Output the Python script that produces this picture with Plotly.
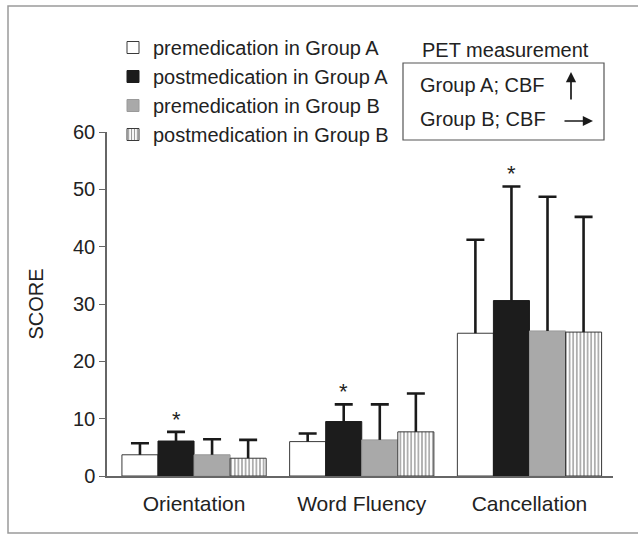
import plotly.graph_objects as go

# ---------------- data ----------------
categories = ["Orientation", "Word Fluency", "Cancellation"]
series_names = [
    "premedication in Group A",
    "postmedication in Group A",
    "premedication in Group B",
    "postmedication in Group B",
]
pre_A = [3.7, 6.0, 24.9]
pre_A_sd = [2.0, 1.4, 16.3]
post_A = [6.1, 9.5, 30.6]
post_A_sd = [1.6, 3.0, 19.9]
pre_B = [3.7, 6.3, 25.3]
pre_B_sd = [2.7, 6.2, 23.4]
post_B = [3.1, 7.7, 25.1]
post_B_sd = [3.2, 6.7, 20.1]
significant_post_A = [True, True, True]
y_ticks = [0, 10, 20, 30, 40, 50, 60]

# ---------------- style ----------------
W, H = 638, 535
ML, MR, MT, MB = 107, 25, 132, 59
FONT = "Liberation Sans, Arial, Helvetica, sans-serif"
TXT = "#222222"
FS = 20
BARGAP = 0.14
ERR_COLOR = "#1a1a1a"
ERR_THICK = 2.6
x_pos = list(range(len(categories)))
n_series = 4
bar_w = (1 - BARGAP) / n_series


def px_x(p):
    return (p - ML) / (W - ML - MR)


def px_y(p):
    return (H - MB - p) / (H - MT - MB)


def bar_center(i, k):
    return x_pos[i] - (1 - BARGAP) / 2 + (k + 0.5) * bar_w


fig = go.Figure()
values = [pre_A, post_A, pre_B, post_B]
sds = [pre_A_sd, post_A_sd, pre_B_sd, post_B_sd]
fills = ["#ffffff", "#1c1c1c", "#a9a9a9", "#ffffff"]
lines = ["#3a3a3a", "#1c1c1c", "#9a9a9a", "#3a3a3a"]
for k in range(n_series):
    marker = dict(color=fills[k], line=dict(color=lines[k], width=1))
    if k == 3:
        marker["pattern"] = dict(shape="|", fgcolor="#2a2a2a", bgcolor="#ffffff",
                                 size=3.6, solidity=0.38, fillmode="overlay")
    fig.add_trace(go.Bar(
        x=x_pos, y=values[k], name=series_names[k], marker=marker,
        error_y=dict(type="data", array=sds[k], arrayminus=[0] * len(sds[k]),
                     symmetric=False, color=ERR_COLOR, thickness=ERR_THICK,
                     width=0),
    ))

# error-bar caps (hat only) at the top of each upper error bar
for k in range(n_series):
    fig.add_trace(go.Scatter(
        x=[bar_center(i, k) for i in range(len(categories))],
        y=[values[k][i] + sds[k][i] for i in range(len(categories))],
        mode="markers", marker=dict(opacity=0, size=1),
        error_y=dict(type="data", array=[0] * len(categories),
                     color=ERR_COLOR, thickness=ERR_THICK, width=9),
        showlegend=False, hoverinfo="skip",
    ))

# significance stars above post-medication Group A bars
for i, sig in enumerate(significant_post_A):
    if sig:
        fig.add_annotation(
            x=bar_center(i, 1), y=post_A[i] + post_A_sd[i], xref="x", yref="y",
            text="*", showarrow=False, yanchor="bottom", yshift=-2,
            font=dict(family=FONT, size=22, color=TXT),
        )

# PET measurement box
txt_font = dict(family=FONT, size=FS, color=TXT)
fig.add_annotation(x=px_x(505), y=px_y(50), xref="paper", yref="paper",
                   text="PET measurement", showarrow=False,
                   xanchor="center", yanchor="middle", font=txt_font)
fig.add_shape(type="rect", xref="paper", yref="paper",
              x0=px_x(403), x1=px_x(604), y0=px_y(140), y1=px_y(63),
              line=dict(color="#555555", width=1.2))
fig.add_annotation(x=px_x(418), y=px_y(85), xref="paper", yref="paper",
                   text="Group A; CBF", showarrow=False, xanchor="left",
                   yanchor="middle", font=txt_font)
fig.add_annotation(x=px_x(418), y=px_y(119), xref="paper", yref="paper",
                   text="Group B; CBF", showarrow=False, xanchor="left",
                   yanchor="middle", font=txt_font)
fig.add_annotation(x=px_x(571), y=px_y(72), xref="paper", yref="paper",
                   text="", showarrow=True, ax=0, ay=29, arrowhead=2,
                   arrowsize=1.2, arrowwidth=1.7, arrowcolor="#1a1a1a")
fig.add_annotation(x=px_x(593), y=px_y(121), xref="paper", yref="paper",
                   text="", showarrow=True, ax=-30, ay=0, arrowhead=2,
                   arrowsize=1.2, arrowwidth=1.7, arrowcolor="#1a1a1a")

# outer frame
fig.add_shape(type="rect", xref="paper", yref="paper",
              x0=px_x(8), x1=px_x(645), y0=px_y(533), y1=px_y(6),
              line=dict(color="#9a9a9a", width=1.5))

fig.update_layout(
    width=W, height=H, autosize=False,
    margin=dict(l=ML, r=MR, t=MT, b=MB),
    paper_bgcolor="white", plot_bgcolor="white",
    barmode="group", bargap=BARGAP, bargroupgap=0,
    font=dict(family=FONT, color=TXT),
    showlegend=True,
    legend=dict(x=px_x(113), y=px_y(28), xanchor="left", yanchor="top",
                font=txt_font, bgcolor="rgba(0,0,0,0)", itemwidth=30,
                tracegroupgap=0),
    xaxis=dict(range=[-0.519, 2.498], tickvals=x_pos, ticktext=categories,
               showline=True, linecolor="#666666", linewidth=1.5,
               ticks="", showgrid=False, zeroline=False, ticklabelstandoff=8,
               tickfont=dict(family=FONT, size=21, color=TXT)),
    yaxis=dict(range=[0, 60], tickvals=y_ticks, showline=True,
               linecolor="#666666", linewidth=1.5, ticks="outside",
               ticklen=6, tickcolor="#666666", tickwidth=1.3,
               showgrid=False, zeroline=False,
               tickfont=txt_font,
               title=dict(text="SCORE", standoff=24, font=txt_font)),
)

fig.write_html("out.html")
